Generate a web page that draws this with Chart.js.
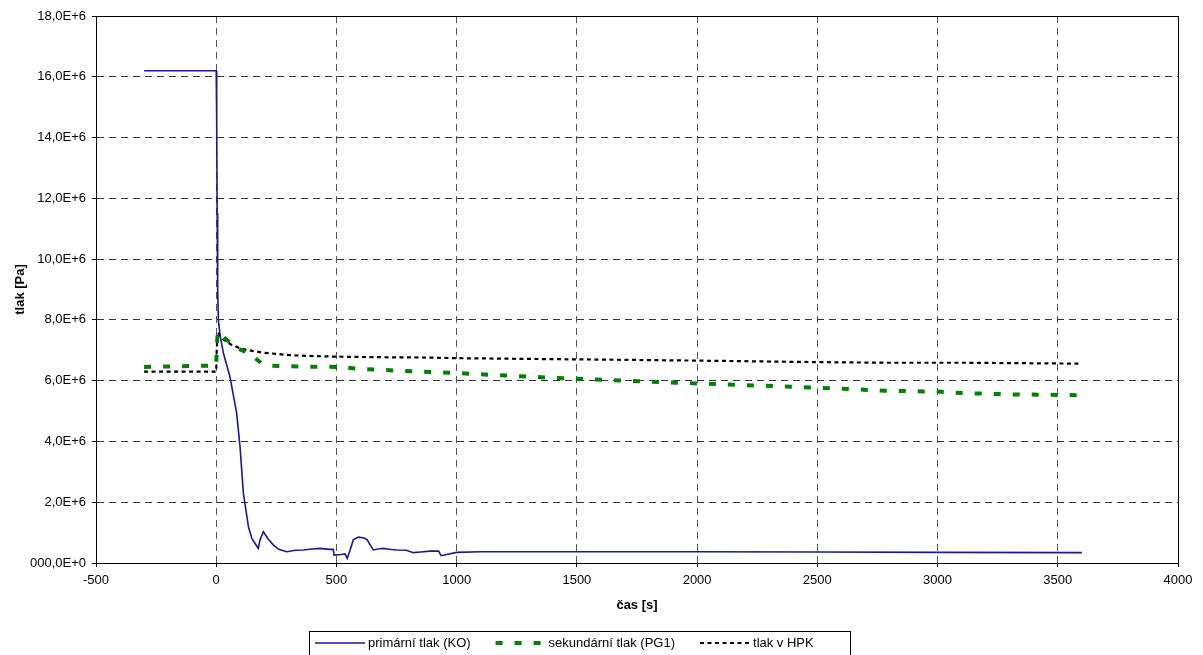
<!DOCTYPE html>
<html>
<head>
<meta charset="utf-8">
<script src="https://cdn.jsdelivr.net/npm/chart.js@4/dist/chart.umd.min.js"></script>
<style>
  html, body { margin: 0; padding: 0; background: #fff; }
  #wrap { width: 1203px; height: 655px; position: relative; }
</style>
</head>
<body>
<div id="wrap"><canvas id="myChart"></canvas></div>
<script>
// primární tlak (KO)
let primTime = [-300, 0, 2, 4, 6, 9, 16, 30, 57, 85, 99, 113, 134, 148, 165, 175, 182, 196, 215, 238, 260, 293, 330, 362, 400, 432, 470, 487, 490, 520, 536, 545, 558, 570, 591, 615, 628, 653, 680, 695, 720, 750, 790, 820, 850, 889, 925, 935, 1000, 1100, 1300, 1500, 2000, 2500, 3000, 3600];
let primTlak = [16.2e6, 16.2e6, 14.5e6, 11.5e6, 9.0e6, 8.0e6, 7.5e6, 6.9e6, 6.13e6, 4.93e6, 3.83e6, 2.29e6, 1.19e6, 0.81e6, 0.6e6, 0.48e6, 0.76e6, 1.03e6, 0.8e6, 0.59e6, 0.45e6, 0.37e6, 0.42e6, 0.43e6, 0.46e6, 0.48e6, 0.45e6, 0.45e6, 0.26e6, 0.28e6, 0.30e6, 0.15e6, 0.45e6, 0.76e6, 0.85e6, 0.82e6, 0.76e6, 0.43e6, 0.47e6, 0.48e6, 0.45e6, 0.43e6, 0.42e6, 0.34e6, 0.36e6, 0.39e6, 0.39e6, 0.24e6, 0.35e6, 0.37e6, 0.37e6, 0.37e6, 0.37e6, 0.36e6, 0.35e6, 0.34e6];

// sekundární tlak (PG1)
let sekTime = [-300, 0, 2, 6, 20, 44, 80, 120, 160, 189, 210, 272, 400, 515, 591, 700, 834, 1000, 1250, 1500, 1639, 2000, 2250, 2500, 2783, 3000, 3106, 3300, 3600];
let sekTlak = [6.45e6, 6.5e6, 7.0e6, 7.6e6, 7.5e6, 7.34e6, 7.1e6, 6.95e6, 6.75e6, 6.57e6, 6.5e6, 6.48e6, 6.46e6, 6.45e6, 6.39e6, 6.35e6, 6.30e6, 6.25e6, 6.15e6, 6.06e6, 6.02e6, 5.91e6, 5.84e6, 5.77e6, 5.67e6, 5.64e6, 5.59e6, 5.55e6, 5.52e6];

// tlak v HPK
let hpkTime = [-300, 0, 2, 6, 15, 30, 60, 99, 150, 196, 250, 307, 400, 501, 700, 889, 1000, 1250, 1639, 2000, 2500, 2783, 3106, 3600];
let hpkTlak = [6.3e6, 6.3e6, 7.0e6, 7.6e6, 7.5e6, 7.35e6, 7.2e6, 7.06e6, 6.98e6, 6.92e6, 6.88e6, 6.84e6, 6.81e6, 6.79e6, 6.77e6, 6.76e6, 6.74e6, 6.72e6, 6.69e6, 6.66e6, 6.61e6, 6.59e6, 6.59e6, 6.56e6];

let seriesNames = ['primární tlak (KO)', 'sekundární tlak (PG1)', 'tlak v HPK'];
let xTitle = 'čas [s]';
let yTitle = 'tlak [Pa]';

const FONT = 'Arial, "Liberation Sans", sans-serif';

function toPoints(t, v) {
    return t.map((x, i) => ({ x: x, y: v[i] }));
}

// ramecek kolem grafu + legenda
const framePlugin = {
    id: 'frame',
    afterDraw(chart) {
        const ctx = chart.ctx;
        const a = chart.chartArea;
        ctx.save();
        ctx.strokeStyle = '#000';
        ctx.lineWidth = 1;
        ctx.setLineDash([]);
        ctx.strokeRect(Math.round(a.left) + 0.5, Math.round(a.top) + 0.5,
            Math.round(a.right - a.left), Math.round(a.bottom - a.top));

        // legenda
        ctx.strokeStyle = '#000';
        ctx.strokeRect(309.5, 631.5, 541, 24);
        ctx.font = '13px ' + FONT;
        ctx.textBaseline = 'middle';
        ctx.fillStyle = '#000';
        let x = 315;
        const y = 643;
        chart.data.datasets.forEach((ds, i) => {
            ctx.beginPath();
            ctx.strokeStyle = ds.borderColor;
            ctx.lineWidth = ds.borderWidth;
            ctx.setLineDash(ds.borderDash || []);
            ctx.moveTo(x, y);
            ctx.lineTo(x + 50, y);
            ctx.stroke();
            ctx.setLineDash([]);
            ctx.fillText(ds.label, x + 53, y);
            x += 53 + ctx.measureText(ds.label).width + 25;
        });
        ctx.restore();
    }
};

function createChart() {
    var ctx = document.getElementById('myChart').getContext('2d');
    var chartData = {
        datasets: [{
            label: seriesNames[0],
            data: toPoints(primTime, primTlak),
            borderColor: '#1a1a8c',
            borderWidth: 1.6
        }, {
            label: seriesNames[1],
            data: toPoints(sekTime, sekTlak),
            borderColor: '#008000',
            borderWidth: 4,
            borderDash: [7, 12]
        }, {
            label: seriesNames[2],
            data: toPoints(hpkTime, hpkTlak),
            borderColor: '#000',
            borderWidth: 2.2,
            borderDash: [4, 3.5]
        }]
    };

    var options = {
        responsive: true,
        maintainAspectRatio: false,
        animation: false,
        layout: { padding: { left: 0, right: 25, top: 16, bottom: 40 } },
        elements: {
            point: { radius: 0 },
            line: { tension: 0, fill: false, borderCapStyle: 'butt' }
        },
        plugins: {
            legend: { display: false },
            tooltip: { enabled: false }
        },
        scales: {
            x: {
                type: 'linear',
                min: -500,
                max: 4000,
                afterFit: s => { s.height = 52; },
                ticks: {
                    stepSize: 500,
                    color: '#000',
                    font: { family: FONT, size: 13 },
                    padding: 6,
                    maxRotation: 0,
                    callback: v => String(v)
                },
                grid: { color: '#555', tickLength: 4, tickColor: '#000', tickBorderDash: [] },
                border: { display: true, color: '#000', width: 1, dash: [7, 5] },
                title: { display: true, text: xTitle, color: '#000', font: { family: FONT, size: 13, weight: 'bold' }, padding: { top: 0, bottom: 1.5 } }
            },
            y: {
                min: 0,
                max: 18e6,
                afterFit: s => { s.width = 96; },
                ticks: {
                    stepSize: 2e6,
                    color: '#000',
                    font: { family: FONT, size: 13 },
                    padding: 6,
                    callback: v => v === 0 ? '000,0E+0' : (v / 1e6).toFixed(1).replace('.', ',') + 'E+6'
                },
                grid: { color: '#333', tickLength: 4, tickColor: '#000', tickBorderDash: [] },
                border: { display: true, color: '#000', width: 1, dash: [7, 5] },
                title: { display: true, text: yTitle, color: '#000', font: { family: FONT, size: 13, weight: 'bold' }, padding: { top: 13, bottom: 0 } }
            }
        }
    };

    return new Chart(ctx, {
        type: 'line',
        data: chartData,
        options: options,
        plugins: [framePlugin]
    });
}

let myChart = createChart();
</script>
</body>
</html>
